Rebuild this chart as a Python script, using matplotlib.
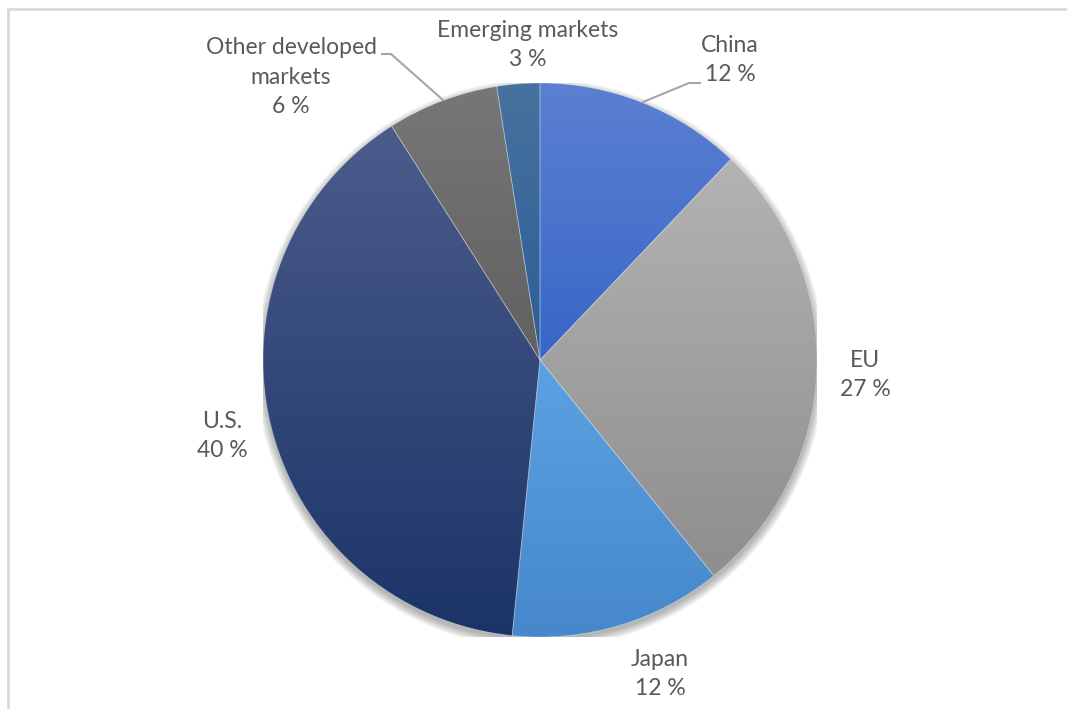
import numpy as np
import matplotlib
matplotlib.use("Agg")
import matplotlib.pyplot as plt
from matplotlib.colors import to_rgb
from matplotlib.lines import Line2D
from matplotlib.patches import Circle

# Data
labels = ["China", "EU", "Japan", "U.S.", "Other developed\nmarkets", "Emerging markets"]
shares = [12.1, 27.1, 12.4, 39.4, 6.5, 2.5]
pct_labels = ["12 %", "27 %", "12 %", "40 %", "6 %", "3 %"]

# gradient colours per slice (top, bottom)
top_colors = ["#5B80D1", "#B3B3B3", "#5CA2E2", "#4B5C8B", "#777777", "#46729F"]
bottom_colors = ["#3866C7", "#8E8E8E", "#4688CB", "#1B3467", "#606060", "#2C5D95"]

W, H = 1067, 709
cx, cy, r = 540, 360, 277

# label centres in pixels
label_px = [(730, 60), (865, 375), (660, 674), (222, 436), (291, 77), (528, 45)]

fig = plt.figure(figsize=(W / 100, H / 100), dpi=100)
fig.patch.set_facecolor("white")

ax = fig.add_axes([(cx - r) / W, (H - cy - r) / H, 2 * r / W, 2 * r / H])
ax.axis("off")


def px(x, y):
    return ((x - cx) / r, (cy - y) / r)


# soft shadow under the pie
for i in range(8):
    ax.add_patch(Circle((0, -0.014), 1.0 + 0.004 * i, color="black",
                        alpha=0.04, lw=0, zorder=0))

wedges, _ = ax.pie(shares, startangle=90, counterclock=False, radius=1,
                   wedgeprops=dict(linewidth=0.6, edgecolor=(1, 1, 1, 0.3)))

for w, c_top, c_bot in zip(wedges, top_colors, bottom_colors):
    ext = w.get_path().get_extents()
    t = np.linspace(0, 1, 256)[:, None]
    grad = (1 - t) * np.array(to_rgb(c_top)) + t * np.array(to_rgb(c_bot))
    grad = grad[:, None, :]
    im = ax.imshow(grad, extent=[ext.x0, ext.x1, ext.y0, ext.y1],
                   origin="upper", interpolation="bilinear", zorder=1)
    im.set_clip_path(w)
    w.set_facecolor("none")
    w.set_zorder(2)

ax.set_xlim(-1, 1)
ax.set_ylim(-1, 1)

# labels
for (lx, ly), lab, p in zip(label_px, labels, pct_labels):
    ax.text(*px(lx, ly), f"{lab}\n{p}", ha="center", va="center",
            fontsize=16.5, family="Lato", color="#595959",
            linespacing=1.5, clip_on=False)

# leader lines
for pts in [[(382, 54), (391, 54), (443, 100)],
            [(643, 102), (689, 83), (700, 83)]]:
    xs, ys = zip(*[px(*p) for p in pts])
    ax.plot(xs, ys, color="#A6A6A6", lw=1.5, clip_on=False, zorder=3)

# chart frame (top and left edges visible)
fig.add_artist(Line2D([8 / W, 1], [1 - 9 / H, 1 - 9 / H], color="#D9D9D9", lw=2))
fig.add_artist(Line2D([8 / W, 8 / W], [0, 1 - 9 / H], color="#D9D9D9", lw=2))

fig.savefig("out.png", dpi=100)
